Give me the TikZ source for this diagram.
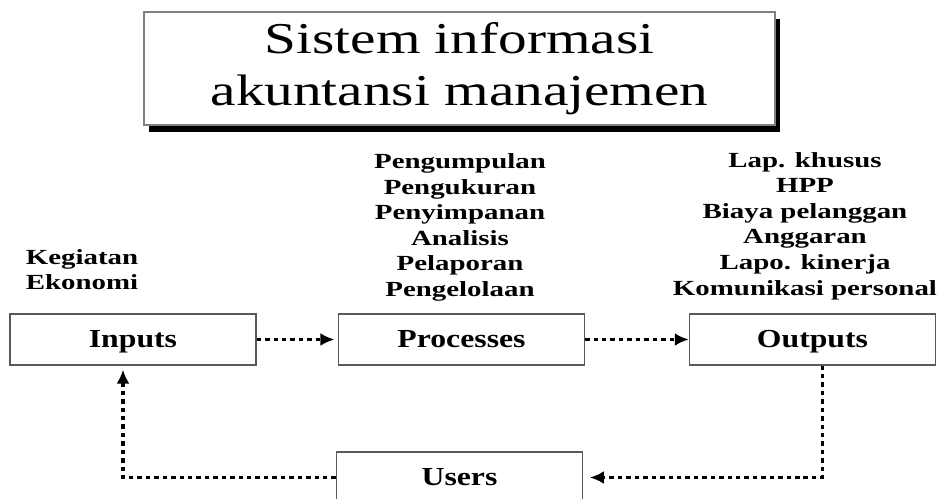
\documentclass[tikz,border=0pt]{standalone}
\usepackage{fontspec}
\setmainfont{Liberation Serif}
\usetikzlibrary{arrows.meta, positioning, shadows}

\tikzset{
  blok/.style={draw=gray!70!black, line width=0.9pt, fill=white, inner sep=0pt,
    minimum width=6.05cm, minimum height=1.53cm, xscale=1.22,
    text height=18pt, text depth=4pt,
    font=\fontsize{22.2}{26}\selectfont\bfseries},
  daftar/.style={align=center, inner sep=0pt, xscale=1.34,
    font=\fontsize{18.4}{21.8}\selectfont\bfseries},
  alir/.style={line width=3.1pt, dash pattern=on 3.8pt off 3.4pt,
    -{Latex[length=12pt,width=11pt]}}
}

\begin{document}
\begin{tikzpicture}[x=0.03cm, y=-0.03cm]
\useasboundingbox (0,0) rectangle (940,499);
\clip (0,0) rectangle (940,499);
% judul
\node[draw=gray, line width=0.9pt, fill=white, minimum width=14.56cm, minimum height=3.39cm,
  xscale=1.3, align=center, font=\fontsize{37.6}{44.4}\selectfont,
  drop shadow={shadow xshift=0.16cm, shadow yshift=-0.21cm, opacity=1, fill=black}]
  (judul) at (459.5,68.5) {Sistem informasi\\akuntansi manajemen};
% kotak
\node[blok] (Inputs) at (133,339.5) {Inputs};
\node[blok] (Processes) at (461.5,339.5) {Processes};
\node[blok] (Outputs) at (812.5,339.5) {Outputs};
\node[blok] (Users) at (459.5,477.5) {Users};
% keterangan
\node[daftar, align=left] (isiInputs) at (82,269.5) {Kegiatan\\Ekonomi};
\node[daftar] (isiProcesses) at (460,227.5) {Pengumpulan\\Pengukuran\\Penyimpanan\\Analisis\\Pelaporan\\Pengelolaan};
\node[daftar] (isiOutputs) at (805,226) {Lap. khusus\\HPP\\Biaya pelanggan\\Anggaran\\Lapo. kinerja\\Komunikasi personal};
% panah
\draw[alir, shorten >=0.1cm] (Inputs) -- (Processes);
\draw[alir] (Processes) -- (Outputs);
\draw[alir, shorten >=0.2cm] ([xshift=0.3cm]Outputs.south) |- (Users);
\draw[alir, shorten >=0.12cm] (Users) -| ([xshift=-0.3cm]Inputs.south);
\end{tikzpicture}
\end{document}
